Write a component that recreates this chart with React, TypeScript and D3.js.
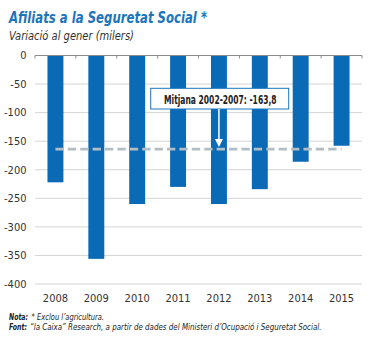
import React from "react";
import * as d3 from "d3";

const years = ["2008", "2009", "2010", "2011", "2012", "2013", "2014", "2015"];
const values = [-222, -356, -260, -230, -260, -234, -186, -158];
const yTicks = [0, -50, -100, -150, -200, -250, -300, -350, -400];
const average = -163.8;
const avgLabel = "Mitjana 2002-2007: -163,8";

const W = 372;
const H = 338;
const FONT = "'Liberation Sans Narrow', 'DejaVu Sans Condensed', 'Open Sans', sans-serif";

export default function App() {
  const x = d3.scaleBand<string>().domain(years).range([35, 362]).paddingInner(0.61).paddingOuter(0.305);
  const y = d3.scaleLinear().domain([-400, 0]).range([284, 55.5]);
  const bands = d3.scaleBand<string>().domain(years).range([35, 362]);
  const bw = x.bandwidth();
  const cx = (d: string) => (x(d) as number) + bw / 2;
  const arrowX = cx("2012");
  const yAvg = y(average);

  return (
    <svg width={W} height={H} style={{ position: "absolute", left: 0, top: 0, background: "#fff" }} fontFamily={FONT}>
      <text x={9} y={23} fontSize={16} fontWeight="bold" fontStyle="italic" fill="#1b75bb" textLength={198} lengthAdjust="spacingAndGlyphs">
        Afiliats a la Seguretat Social *
      </text>
      <text x={9} y={39.5} fontSize={12.5} fontStyle="italic" fill="#333" textLength={125} lengthAdjust="spacingAndGlyphs">
        Variació al gener (milers)
      </text>

      {yTicks.filter((t) => t !== 0).map((t) => (
        <line key={t} x1={35} x2={362} y1={y(t)} y2={y(t)} stroke="#d4d4d4" strokeWidth={1} />
      ))}
      {yTicks.map((t) => (
        <text key={"l" + t} x={26.5} y={y(t) + 3.8} fontSize={11} textAnchor="end" fill="#333">
          {t}
        </text>
      ))}

      {years.map((d, i) => (
        <rect key={d} x={x(d)} y={y(0)} width={bw} height={y(values[i]) - y(0)} fill="#0a6ab6" />
      ))}

      <line x1={35} x2={362} y1={y(0)} y2={y(0)} stroke="#8c8c8c" strokeWidth={1} />
      {[...years.map((d) => bands(d) as number), 362].map((t, i) => (
        <line key={"t" + i} x1={t} x2={t} y1={y(0)} y2={y(0) + 3} stroke="#8c8c8c" strokeWidth={1} />
      ))}

      <line x1={cx("2008")} x2={cx("2015")} y1={yAvg} y2={yAvg} stroke="#b3bec4" strokeWidth={2.8} strokeDasharray="8.3 4.1" />

      <rect x={150.7} y={88.3} width={138} height={20.7} fill="#fff" stroke="#1b75bb" strokeWidth={1} />
      <text x={220.3} y={103.5} fontSize={11.5} fontWeight="bold" textAnchor="middle" fill="#222" textLength={112.5} lengthAdjust="spacingAndGlyphs">
        {avgLabel}
      </text>
      <line x1={arrowX} x2={arrowX} y1={109} y2={140} stroke="#fff" strokeWidth={1.5} />
      <path d={`M${arrowX - 4},${139} L${arrowX + 4},${139} L${arrowX},${147} Z`} fill="#fff" />

      {years.map((d) => (
        <text key={"x" + d} x={cx(d)} y={302} fontSize={11} textAnchor="middle" fill="#333">
          {d}
        </text>
      ))}

      <text x={9} y={320} fontSize={8.8} fontStyle="italic" fontWeight="bold" fill="#222" textLength={19} lengthAdjust="spacingAndGlyphs">
        Nota:
      </text>
      <text x={31.5} y={320} fontSize={8.8} fontStyle="italic" fill="#222" textLength={72.5} lengthAdjust="spacingAndGlyphs">
        * Exclou l’agricultura.
      </text>
      <text x={9} y={330} fontSize={8.8} fontStyle="italic" fontWeight="bold" fill="#222" textLength={18} lengthAdjust="spacingAndGlyphs">
        Font:
      </text>
      <text x={30} y={330} fontSize={8.8} fontStyle="italic" fill="#222" textLength={291.5} lengthAdjust="spacingAndGlyphs">
        “la Caixa” Research, a partir de dades del Ministeri d’Ocupació i Seguretat Social.
      </text>
    </svg>
  );
}
